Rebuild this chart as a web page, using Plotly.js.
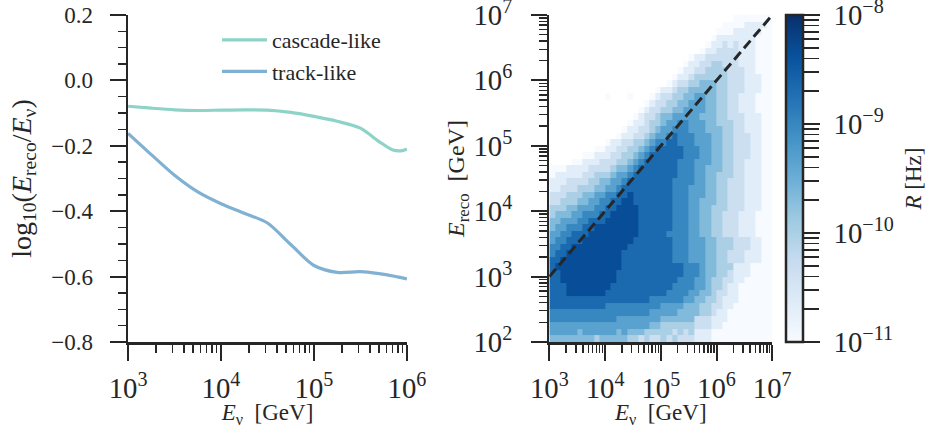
<!DOCTYPE html>
<html><head><meta charset="utf-8">
<script src="https://cdn.plot.ly/plotly-3.0.1.min.js"></script>
<style>html,body{margin:0;padding:0;background:#fff}#chart{width:932px;height:428px}</style>
</head><body><div id="chart"></div>
<script>
// ---------- Left panel: mean log10(E_reco/E_nu) vs E_nu ----------
const LOG10_ENU_CURVE = [3.0, 3.25, 3.5, 3.75, 4.0, 4.25, 4.5, 4.75, 5.0, 5.25, 5.5, 5.7, 5.85, 5.95, 6.0];
const CASCADE_LOG_RATIO = [-0.079, -0.085, -0.090, -0.092, -0.091, -0.090, -0.091, -0.098, -0.110, -0.125, -0.146, -0.187, -0.213, -0.215, -0.210];
const TRACK_LOG_RATIO   = [-0.162, -0.227, -0.290, -0.341, -0.377, -0.406, -0.436, -0.502, -0.566, -0.587, -0.585, -0.591, -0.598, -0.604, -0.607];
const SERIES_NAMES = ['cascade-like', 'track-like'];

// ---------- Right panel: 2D histogram of rate R [Hz] ----------
const LOG10_ENU_BIN_EDGES = [3.0,3.1,3.2,3.3,3.4,3.5,3.6,3.7,3.8,3.9,4.0,4.1,4.2,4.3,4.4,4.5,4.6,4.7,4.8,4.9,5.0,5.1,5.2,5.3,5.4,5.5,5.6,5.7,5.8,5.9,6.0,6.1,6.2,6.3,6.4,6.5,6.6,6.7,6.8,6.9,7.0];
const LOG10_EREC_BIN_EDGES = [2.0,2.1,2.2,2.3,2.4,2.5,2.6,2.7,2.8,2.9,3.0,3.1,3.2,3.3,3.4,3.5,3.6,3.7,3.8,3.9,4.0,4.1,4.2,4.3,4.4,4.5,4.6,4.7,4.8,4.9,5.0,5.1,5.2,5.3,5.4,5.5,5.6,5.7,5.8,5.9,6.0,6.1,6.2,6.3,6.4,6.5,6.6,6.7,6.8,6.9,7.0];
// level code per cell -> log10(R/Hz); '.' = empty bin
const LEVEL_LOG10_RATE = [-11.0, -10.667, -10.333, -10.0, -9.667, -9.333, -9.0, -8.667, -8.333, -8.0];
// rows from E_reco = 10^7 (top) down to 10^2 (bottom); columns E_nu 10^3 -> 10^7
const RATE_ROWS_TOP_DOWN = [
  ".................................0000000",
  "...............................000011110",
  "..............................0001111100",
  ".............................01111111000",
  "............................011212111000",
  "...........................0112222111000",
  ".........................011222222111000",
  "........................0112233222111000",
  ".......................01122333322211000",
  "......................011233333322211100",
  ".....................0122334443322211100",
  "...................011233444443322211100",
  "..........0...0...0122334455443322111000",
  ".................01223344555443322111000",
  "................012233445555443322111000",
  "...............0122344555554443322211100",
  "..............01123345566555443332211100",
  ".............011223455666555444332211100",
  "............0112234556766655544332221100",
  "..........011223345667766655544332221100",
  "........00112233456777776665544332221100",
  "......0011122334567777776665544332221100",
  "....001112223345677777766655544332211100",
  "0001111222234456777777766655444332211100",
  "0111112233345567777777766655443332211100",
  "1112222334455677777777666655443322211100",
  "1122233344556777777777666555443322211100",
  "2223334455667787777777666555443322211100",
  "2233344556677887777777666554443322211100",
  "3334455566778888777777666554433322211100",
  "3444556667788888777777666554433222111000",
  "4455566777888888777777666554433222111000",
  "4556667788888888777777666554433222111000",
  "5566777888888888777776666554433222111000",
  "5667778888888887777777666555443332221100",
  "6677888888888877777777666555443332221100",
  "6778888888888777777777666555443322211100",
  "7788888888888777777777666555443322211100",
  "7888888888888777777777776665443331110000",
  "7788888888887777777777776665443321110000",
  "7788888888887777777777766655433221100000",
  "7778888888877777777777666655433211000000",
  "7778888888777777777776666554432211000000",
  "7777777777777777776666665544332111000000",
  "7777777777666666666655554443322110000000",
  "6666666666666666665555544443321100000000",
  "6666666666665555555544444422211100000000",
  "5555555555555555554433333322211000000000",
  "5555545555554544433333232311100000000000",
  "4444444434444433232232322211100000000000"
];
const DIAGONAL_LOG10_E = [3, 7];
const COLORBAR_LOG10_RANGE = [-11, -8];
const BLUES = ['#f7fbff','#deebf7','#c6dbef','#9ecae1','#6baed6','#4292c6','#2171b5','#08519c','#08306b'];

// ---------- build ----------
const INK = '#262626';
const FONT = "'Liberation Serif', serif";
const FS = 23;
const W = 932, H = 428, M = {l: 128, r: 129, t: 15, b: 86};
const PW = W - M.l - M.r, PH = H - M.t - M.b;
const fx = px => (px - M.l) / PW;
const pow10 = v => Math.pow(10, v);
const EPS = 0.0008; // keeps end-of-range ticks visible

const nX = LOG10_ENU_BIN_EDGES.length - 1;
const zRows = RATE_ROWS_TOP_DOWN.slice().reverse().map(row =>
  Array.from(row.padEnd(nX, '.').slice(0, nX)).map(ch => ch === '.' ? null : LEVEL_LOG10_RATE[+ch]));
const colorscale = BLUES.map((c, k) => [k / (BLUES.length - 1), c]);

const tfont = {family: FONT, size: FS, color: INK};
const minorLog = {ticks: 'outside', ticklen: 8, tickwidth: 1.4, tickcolor: INK, dtick: 'D1', showgrid: false};
const baseAxis = {
  showline: true, linewidth: 2.5, linecolor: INK, ticks: 'outside', ticklen: 16, tickwidth: 2,
  tickcolor: INK, showgrid: false, zeroline: false, mirror: false, automargin: false, tickfont: tfont,
  ticklabeloverflow: 'allow'
};

const traces = [
  {x: LOG10_ENU_CURVE.map(pow10), y: CASCADE_LOG_RATIO, name: SERIES_NAMES[0], mode: 'lines',
   line: {color: '#8dd3c7', width: 3.2, shape: 'spline', smoothing: 0.8}, xaxis: 'x', yaxis: 'y', hoverinfo: 'skip'},
  {x: LOG10_ENU_CURVE.map(pow10), y: TRACK_LOG_RATIO, name: SERIES_NAMES[1], mode: 'lines',
   line: {color: '#80b1d3', width: 3.2, shape: 'spline', smoothing: 0.8}, xaxis: 'x', yaxis: 'y', hoverinfo: 'skip'},
  {type: 'heatmap', x: LOG10_ENU_BIN_EDGES.map(pow10), y: LOG10_EREC_BIN_EDGES.map(pow10), z: zRows,
   xaxis: 'x2', yaxis: 'y2', zmin: COLORBAR_LOG10_RANGE[0], zmax: COLORBAR_LOG10_RANGE[1],
   colorscale: colorscale, zsmooth: false, showlegend: false, hoverinfo: 'skip',
   colorbar: {x: fx(786), xanchor: 'left', xpad: 0, xref: 'paper', thickness: 17, thicknessmode: 'pixels',
              len: 1, lenmode: 'fraction', y: 0.5, yanchor: 'middle', ypad: 0,
              outlinewidth: 2.5, outlinecolor: INK, ticks: '', showticklabels: false, borderwidth: 0}},
  {x: DIAGONAL_LOG10_E.map(pow10), y: DIAGONAL_LOG10_E.map(pow10), mode: 'lines', xaxis: 'x2', yaxis: 'y2',
   line: {color: INK, width: 3, dash: '10px,5px'}, showlegend: false, hoverinfo: 'skip'},
  {x: [], y: [], mode: 'lines', xaxis: 'x3', yaxis: 'y3', showlegend: false, hoverinfo: 'skip'}
];

const layout = {
  width: W, height: H, margin: M, paper_bgcolor: '#fff', plot_bgcolor: 'rgba(0,0,0,0)',
  font: tfont,
  showlegend: true,
  legend: {x: fx(217), y: 1 - (19 - M.t) / PH, xanchor: 'left', yanchor: 'top', itemwidth: 45,
           bgcolor: 'rgba(0,0,0,0)', borderwidth: 0, font: {family: FONT, size: 22, color: INK}, tracegroupgap: 0},
  xaxis: Object.assign({}, baseAxis, {domain: [fx(128), fx(407)], anchor: 'y', type: 'log', range: [3 - EPS, 6 + EPS], dtick: 1,
          exponentformat: 'power', minor: minorLog, ticklabelstandoff: 4,
          title: {text: '<i>E</i><sub>ν</sub>  [GeV]', standoff: 14, font: tfont}}),
  yaxis: Object.assign({}, baseAxis, {domain: [0, 1], anchor: 'x', range: [-0.8, 0.2], dtick: 0.2, tick0: 0,
          tickformat: '.1f', minor: {ticks: 'outside', ticklen: 8, tickwidth: 1.4, tickcolor: INK, dtick: 0.05, showgrid: false},
          ticklabelstandoff: 12,
          title: {text: 'log<sub>10</sub>(<i>E</i><sub>reco</sub>/<i>E</i><sub>ν</sub>)', standoff: 12,
                  font: {family: FONT, size: 28, color: INK}}}),
  xaxis2: Object.assign({}, baseAxis, {domain: [fx(549.3), fx(772.3)], anchor: 'y2', type: 'log', range: [3 - EPS, 7 + EPS], dtick: 1,
          exponentformat: 'power', minor: minorLog, ticklabelstandoff: 4,
          title: {text: '<i>E</i><sub>ν</sub>  [GeV]', standoff: 14, font: tfont}}),
  yaxis2: Object.assign({}, baseAxis, {domain: [0, 1], anchor: 'x2', type: 'log', range: [2 - EPS, 7 + EPS], dtick: 1,
          exponentformat: 'power', minor: minorLog, ticklabelstandoff: 14,
          title: {text: '<i>E</i><sub>reco</sub>  [GeV]', standoff: 0, font: {family: FONT, size: 24, color: INK}}}),
  xaxis3: {domain: [fx(786), fx(803)], anchor: 'y3', visible: false, range: [0, 1], fixedrange: true},
  yaxis3: Object.assign({}, baseAxis, {domain: [0, 1], anchor: 'x3', side: 'right', type: 'log',
          range: [COLORBAR_LOG10_RANGE[0] - EPS, COLORBAR_LOG10_RANGE[1] + EPS],
          dtick: 1, exponentformat: 'power', showline: false, ticklen: 16, tickwidth: 1.8,
          minor: {ticks: 'outside', ticklen: 15, tickwidth: 1.6, tickcolor: INK, dtick: 'D1', showgrid: false},
          ticklabelstandoff: 9,
          title: {text: '<i>R</i> [Hz]', standoff: 12, font: tfont}})
};

Plotly.newPlot('chart', traces, layout, {displayModeBar: false, staticPlot: true});
</script>
</body></html>
